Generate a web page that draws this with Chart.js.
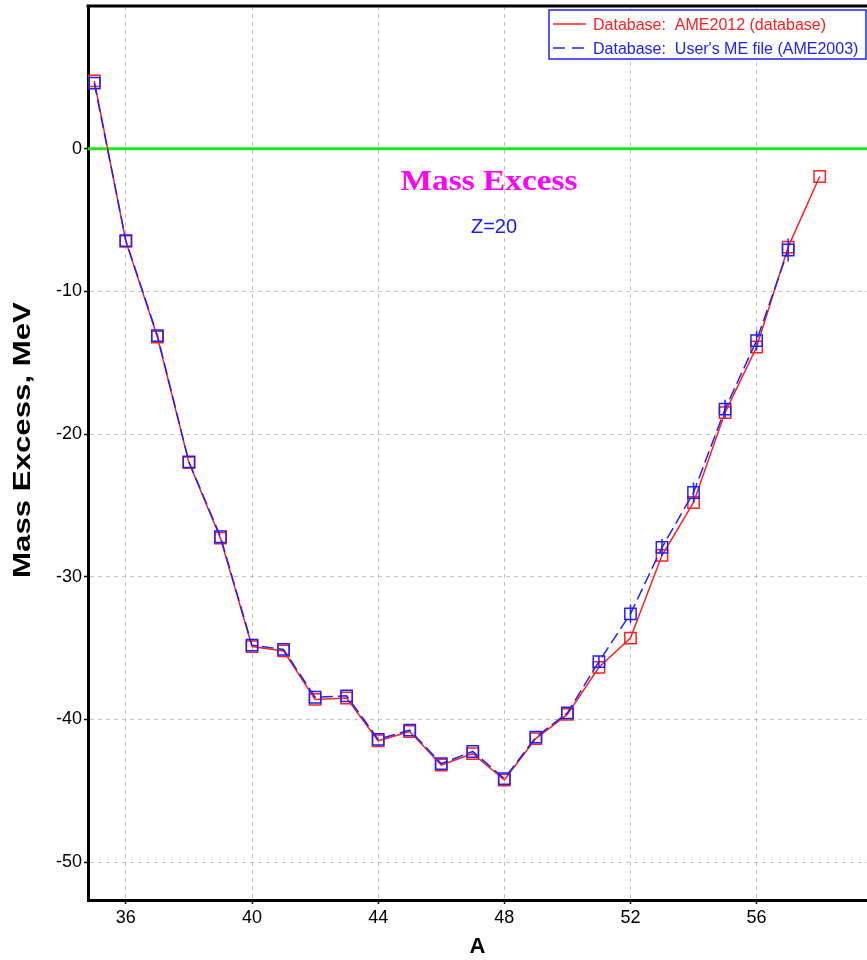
<!DOCTYPE html>
<html>
<head>
<meta charset="utf-8">
<script src="https://cdn.jsdelivr.net/npm/chart.js@4.4.1/dist/chart.umd.min.js"></script>
<style>
  html, body { margin: 0; padding: 0; background: #fff; }
  #wrap { width: 867px; height: 960px; }
</style>
</head>
<body>
<div id="wrap"><canvas id="canvas" width="867" height="960"></canvas></div>
<script>
// mass numbers A for Z=20 (calcium)
const masses = [35, 36, 37, 38, 39, 40, 41, 42, 43, 44, 45, 46, 47, 48, 49, 50, 51, 52, 53, 54, 55, 56, 57, 58];
// AME2012 mass excess, MeV
const ame2012 = [4.75, -6.5, -13.2, -22.0, -27.3, -34.9, -35.2, -38.6, -38.5, -41.5, -40.85, -43.2,
  -42.4, -44.25, -41.35, -39.65, -36.35, -34.3, -28.5, -24.8, -18.5, -13.9, -6.9, -1.95];
// user's ME file (AME2003), A = 35..57
const ame2003 = [4.6, -6.45, -13.1, -21.95, -27.2, -34.8, -35.1, -38.45, -38.35, -41.4, -40.75, -43.1,
  -42.25, -44.15, -41.25, -39.55, -35.95, -32.6, -27.95, -24.1, -18.25, -13.45, -7.1];
const ame2003Err = [0, 0, 0, 0, 0, 0, 0, 0, 0, 0, 0, 0, 0, 0, 0, 0, 0.4, 0.65, 0.6, 0.7, 0.65, 0.7, 0.8];

const xTicks = [36, 40, 44, 48, 52, 56];
const yTicks = [0, -10, -20, -30, -40, -50];

const legendItems = [
  { text: "Database:  AME2012 (database)", color: "#ff2020", dash: [] },
  { text: "Database:  User's ME file (AME2003)", color: "#2020ff", dash: [12, 7] },
];

const red = "#ff2020";
const blue = "#2020ff";

const overlay = {
  id: "overlay",
  beforeDatasetsDraw(chart) {
    const { ctx, chartArea } = chart;
    const y0 = chart.scales.y.getPixelForValue(0);
    ctx.save();
    ctx.strokeStyle = "#1ee61e";
    ctx.lineWidth = 3;
    ctx.beginPath();
    ctx.moveTo(chartArea.left, y0);
    ctx.lineTo(chartArea.right, y0);
    ctx.stroke();
    ctx.restore();
  },
  afterDatasetsDraw(chart) {
    const { ctx } = chart;
    const xs = chart.scales.x, ys = chart.scales.y;
    ctx.save();
    ctx.strokeStyle = blue;
    ctx.lineWidth = 1.5;
    ame2003.forEach((v, i) => {
      const e = ame2003Err[i];
      if (!e) return;
      const px = xs.getPixelForValue(masses[i]);
      ctx.beginPath();
      ctx.moveTo(px, ys.getPixelForValue(v + e));
      ctx.lineTo(px, ys.getPixelForValue(v - e));
      ctx.stroke();
    });
    ctx.restore();
  },
  afterDraw(chart) {
    const { ctx, chartArea } = chart;
    ctx.save();

    // top frame line
    ctx.strokeStyle = "#000";
    ctx.lineWidth = 3;
    ctx.beginPath();
    ctx.moveTo(chartArea.left - 1.5, chartArea.top);
    ctx.lineTo(chartArea.right, chartArea.top);
    ctx.stroke();

    // title inside the plot
    ctx.save();
    ctx.translate(489, 190);
    ctx.scale(1.15, 1);
    ctx.fillStyle = "#ff00ff";
    ctx.font = "bold 29px 'Liberation Serif'";
    ctx.textAlign = "center";
    ctx.textBaseline = "alphabetic";
    ctx.fillText("Mass Excess", 0, 0);
    ctx.restore();

    ctx.fillStyle = "#1a1aff";
    ctx.font = "20px 'Liberation Sans'";
    ctx.textAlign = "center";
    ctx.fillText("Z=20", 494, 233);

    // legend box
    ctx.fillStyle = "#fff";
    ctx.fillRect(549, 10, 317, 49);
    ctx.strokeStyle = blue;
    ctx.lineWidth = 1.5;
    ctx.strokeRect(549, 10, 317, 49);
    ctx.font = "16px 'Liberation Sans'";
    ctx.textAlign = "left";
    legendItems.forEach((item, i) => {
      const ly = 24 + i * 24;
      ctx.strokeStyle = item.color;
      ctx.lineWidth = 1.5;
      ctx.setLineDash(item.dash);
      ctx.beginPath();
      ctx.moveTo(553, ly);
      ctx.lineTo(586, ly);
      ctx.stroke();
      ctx.setLineDash([]);
      ctx.fillStyle = item.color;
      ctx.fillText(item.text, 593, ly + 6);
    });

    // y axis title
    ctx.save();
    ctx.translate(21, 440);
    ctx.rotate(-Math.PI / 2);
    ctx.scale(1.3, 1);
    ctx.fillStyle = "#000";
    ctx.font = "bold 24px 'Liberation Sans'";
    ctx.textAlign = "center";
    ctx.fillText("Mass Excess, MeV", 0, 8.5);
    ctx.restore();

    ctx.restore();
  }
};

const toPoints = (ys) => ys.map((v, i) => ({ x: masses[i], y: v }));

new Chart(document.getElementById("canvas").getContext("2d"), {
  type: "line",
  data: {
    datasets: [
      {
        label: "Database:  AME2012 (database)",
        data: toPoints(ame2012),
        borderColor: red,
        borderWidth: 1.5,
        pointStyle: "rect",
        pointRadius: 8,
        pointBorderWidth: 1.5,
        pointBorderColor: red,
        pointBackgroundColor: "rgba(0,0,0,0)",
        tension: 0,
        order: 2
      },
      {
        label: "Database:  User's ME file (AME2003)",
        data: toPoints(ame2003),
        borderColor: blue,
        borderWidth: 1.5,
        borderDash: [12, 5],
        pointStyle: "rect",
        pointRadius: 8,
        pointBorderWidth: 1.5,
        pointBorderColor: blue,
        pointBackgroundColor: "rgba(0,0,0,0)",
        tension: 0,
        order: 1
      }
    ]
  },
  options: {
    responsive: false,
    animation: false,
    events: [],
    layout: { autoPadding: false, padding: { top: 6, right: 0, left: 0, bottom: 0 } },
    plugins: {
      legend: { display: false },
      tooltip: { enabled: false }
    },
    scales: {
      x: {
        type: "linear",
        min: 34.8,
        max: 59.5,
        afterBuildTicks: (scale) => { scale.ticks = xTicks.map(v => ({ value: v })); },
        afterFit: (scale) => {
          scale.height = 60;
          scale.paddingLeft = 0;
          scale.paddingRight = 0;
        },
        ticks: {
          color: "#000",
          font: { family: "'Liberation Sans'", size: 18 },
          padding: 3,
          maxRotation: 0
        },
        grid: {
          color: "#c4c4c4",
          lineWidth: 1,
          tickLength: 4,
          tickColor: "#000",
          tickWidth: 1.5
        },
        border: { color: "#000", width: 3, dash: [4, 4] },
        title: {
          display: true,
          text: "A",
          color: "#000",
          font: { family: "'Liberation Sans'", size: 22, weight: "bold" },
          padding: { top: 2, bottom: 0 }
        }
      },
      y: {
        type: "linear",
        min: -52.66,
        max: 10.0,
        afterBuildTicks: (scale) => { scale.ticks = yTicks.map(v => ({ value: v })); },
        afterFit: (scale) => {
          scale.width = 88;
          scale.paddingTop = 0;
          scale.paddingBottom = 0;
        },
        ticks: {
          color: "#000",
          font: { family: "'Liberation Sans'", size: 18 },
          padding: 2
        },
        grid: {
          color: "#c4c4c4",
          lineWidth: 1,
          tickLength: 4,
          tickColor: "#000",
          tickWidth: 1.5
        },
        border: { color: "#000", width: 3, dash: [4, 4] }
      }
    }
  },
  plugins: [overlay]
});
</script>
</body>
</html>
